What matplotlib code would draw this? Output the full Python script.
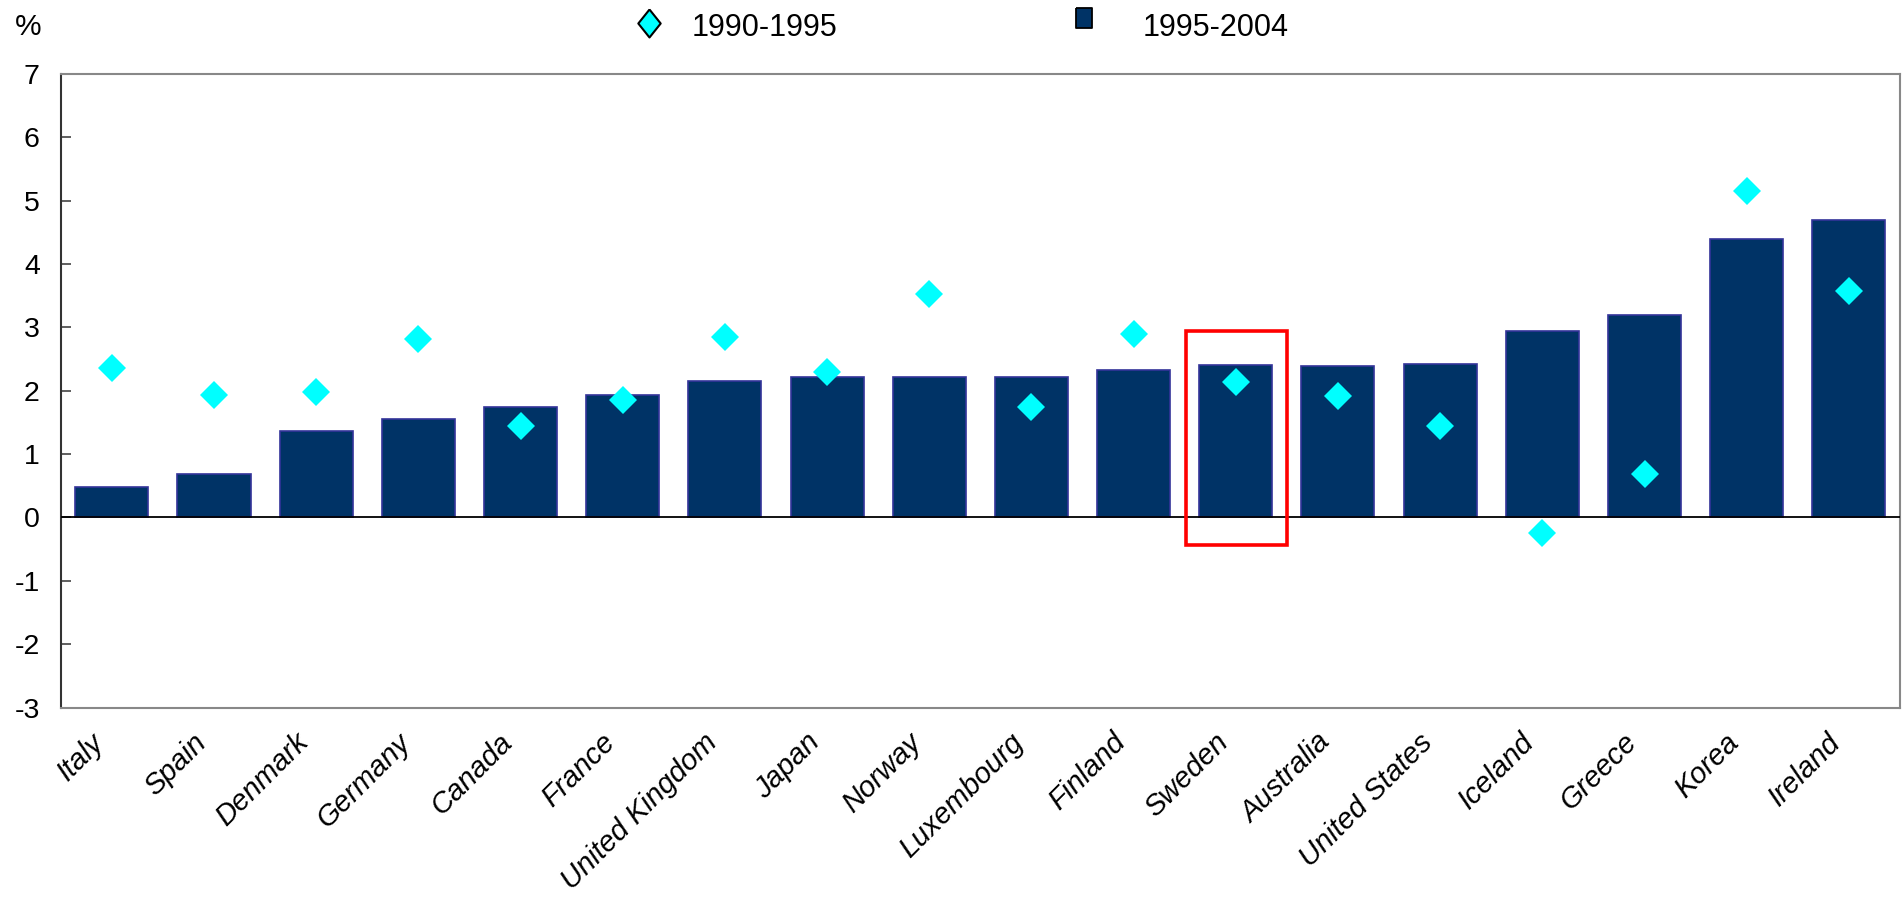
import matplotlib
matplotlib.use("Agg")
import matplotlib.pyplot as plt
from matplotlib.patches import Rectangle
from matplotlib.lines import Line2D
from matplotlib.transforms import ScaledTranslation
import numpy as np

plt.rcParams['font.family'] = ['Liberation Sans', 'DejaVu Sans']

countries = ["Italy", "Spain", "Denmark", "Germany", "Canada", "France",
             "United Kingdom", "Japan", "Norway", "Luxembourg", "Finland",
             "Sweden", "Australia", "United States", "Iceland", "Greece",
             "Korea", "Ireland"]
growth_1995_2004 = [0.48, 0.68, 1.36, 1.55, 1.75, 1.94, 2.16, 2.22, 2.22, 2.22,
                    2.33, 2.40, 2.39, 2.42, 2.94, 3.20, 4.40, 4.70]
growth_1990_1995 = [2.36, 1.94, 1.98, 2.82, 1.45, 1.85, 2.85, 2.30, 3.53, 1.75,
                    2.90, 2.14, 1.92, 1.45, -0.25, 0.68, 5.16, 3.58]
yticks = [-3, -2, -1, 0, 1, 2, 3, 4, 5, 6, 7]
highlight = "Sweden"

bar_color = "#003366"
bar_edge = "#333399"
dia_color = "#00FFFF"

fig = plt.figure(figsize=(19.03, 8.98), dpi=100)
ax = fig.add_axes([0.0319, 0.2121, 0.9665, 0.7055])

x = np.arange(len(countries))
ax.bar(x, growth_1995_2004, width=0.715, color=bar_color, edgecolor=bar_edge,
       linewidth=1.2, zorder=2)
ax.plot(x, growth_1990_1995, linestyle='none', marker='D', markersize=14.5,
        color=dia_color, markeredgewidth=0, zorder=3)

ax.axhline(0, color='black', linewidth=1.3, zorder=4)

i = countries.index(highlight)
ax.add_patch(Rectangle((i - 0.49, -0.44), 0.99, 3.38, fill=False,
                       edgecolor='#FF0000', linewidth=2.6, zorder=5,
                       clip_on=False))

ax.set_xlim(-0.5, len(countries) - 0.5)
ax.set_ylim(-3, 7)
ax.set_yticks(yticks)
ax.set_yticklabels([str(v) for v in yticks], fontsize=20.5)
ax.tick_params(axis='y', direction='in', length=7, width=1.2, color='#444444', pad=15)
ax.set_xticks(x)
ax.set_xticklabels(countries, rotation=45, ha='right', va='center',
                   rotation_mode='anchor', fontsize=21, style='italic')
ax.tick_params(axis='x', length=0, pad=22)
offset = ScaledTranslation(-12 / 100, 0, fig.dpi_scale_trans)
for lab in ax.get_xticklabels():
    lab.set_transform(lab.get_transform() + offset)

ax.spines['left'].set_color('#333333')
ax.spines['left'].set_linewidth(1.5)
for s in ['top', 'right', 'bottom']:
    ax.spines[s].set_color('#888888')
    ax.spines[s].set_linewidth(1.5)

fig.text(0.0147, 0.970, "%", fontsize=21.5, ha='center', va='center')

# legend (manual placement to match reference)
fig.add_artist(Line2D([649 / 1903], [1 - 23 / 898], transform=fig.transFigure,
                      linestyle='none',
                      marker=[(0, 1), (0.8, 0), (0, -1), (-0.8, 0), (0, 1)],
                      markersize=28 / 1.389, markerfacecolor=dia_color,
                      markeredgecolor='black', markeredgewidth=1.5))
fig.text(692 / 1903, 1 - 28 / 898, "1990-1995", fontsize=22, ha='left', va='center')
fig.add_artist(Line2D([1084 / 1903], [1 - 18 / 898], transform=fig.transFigure,
                      linestyle='none',
                      marker=[(-0.4, 0.5), (0.4, 0.5), (0.4, -0.5), (-0.4, -0.5), (-0.4, 0.5)],
                      markersize=20 / 1.389, markerfacecolor=bar_color,
                      markeredgecolor='black', markeredgewidth=1.3))
fig.text(1143 / 1903, 1 - 28 / 898, "1995-2004", fontsize=22, ha='left', va='center')

fig.savefig("out.png", dpi=100)
